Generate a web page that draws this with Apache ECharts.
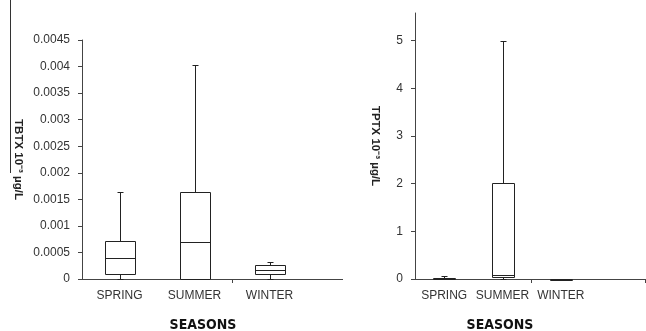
<!DOCTYPE html>
<html><head><meta charset="utf-8">
<script src="https://cdn.jsdelivr.net/npm/echarts@6/dist/echarts.min.js"></script>
<style>html,body{margin:0;padding:0;background:#fff}#c{width:646px;height:331px}</style>
</head><body><div id="c"></div>
<script>
// Categories
const seasons = ['SPRING', 'SUMMER', 'WINTER'];
// Left panel: TBTX  [min, Q1, median, Q3, max]
const tbtxSpring = [0, 0.00009, 0.000395, 0.00072, 0.001635];
const tbtxSummer = [0, 0, 0.000695, 0.00163, 0.00402];
const tbtxWinter = [0, 0.0001, 0.00017, 0.000256, 0.00032];
// Right panel: TPTX  [min, Q1, median, Q3, max]
const tptxSpring = [0, 0, 0.01, 0.02, 0.07];
const tptxSummer = [0, 0.035, 0.09, 2.02, 5.0];
const tptxWinter = [0, 0, 0, 0.005, 0.005];
// Tick labels
const leftTicks = [0, 0.0005, 0.001, 0.0015, 0.002, 0.0025, 0.003, 0.0035, 0.004, 0.0045];
const rightTicks = [0, 1, 2, 3, 4, 5];

const ink = '#222';
const axisCol = '#444';
const font = 'Liberation Sans, Arial, sans-serif';

function px(v) { return Math.round(v) + 0.5; }

function boxRender(boxW, capW) {
  return function (params, api) {
    const i = api.value(0);
    const yMin = px(api.coord([i, api.value(1)])[1]);
    const yQ1 = px(api.coord([i, api.value(2)])[1]);
    const yMed = px(api.coord([i, api.value(3)])[1]);
    const yQ3 = px(api.coord([i, api.value(4)])[1]);
    const yMax = px(api.coord([i, api.value(5)])[1]);
    const x = px(api.coord([i, api.value(3)])[0]);
    const h = boxW / 2, c = capW / 2;
    const st = { stroke: ink, lineWidth: 1, fill: null };
    return {
      type: 'group',
      children: [
        { type: 'line', shape: { x1: x, y1: yQ3, x2: x, y2: yMax }, style: st },
        { type: 'line', shape: { x1: x, y1: yQ1, x2: x, y2: yMin }, style: st },
        { type: 'line', shape: { x1: x - c, y1: yMax, x2: x + c, y2: yMax }, style: st },
        { type: 'line', shape: { x1: x - c, y1: yMin, x2: x + c, y2: yMin }, style: st },
        { type: 'rect', shape: { x: x - h, y: yQ3, width: boxW, height: Math.max(yQ1 - yQ3, 1) }, style: { stroke: ink, lineWidth: 1, fill: '#fff' } },
        { type: 'line', shape: { x1: x - h, y1: yMed, x2: x + h, y2: yMed }, style: st }
      ]
    };
  };
}

function rows(list) { return list.map((v, i) => [i].concat(v)); }

const chart = echarts.init(document.getElementById('c'), null, { renderer: 'canvas' });
chart.setOption({
  animation: false,
  backgroundColor: '#fff',
  grid: [
    { left: 82, width: 225, top: 40, height: 239 },
    { left: 415, width: 175, top: 13, height: 266 }
  ],
  xAxis: [
    { gridIndex: 0, type: 'category', data: seasons, axisLine: { show: false }, axisTick: { show: false },
      axisLabel: { color: '#333', fontSize: 12, fontFamily: font, margin: 11 } },
    { gridIndex: 1, type: 'category', data: seasons, axisLine: { show: false }, axisTick: { show: false },
      axisLabel: { color: '#333', fontSize: 12, fontFamily: font, margin: 11, interval: 0 } }
  ],
  yAxis: [
    { gridIndex: 0, type: 'value', min: 0, max: 0.0045, interval: 0.0005,
      splitLine: { show: false },
      axisLine: { show: true, lineStyle: { color: axisCol, width: 1 } },
      axisTick: { show: true, length: 4, lineStyle: { color: axisCol } },
      axisLabel: { color: '#333', fontSize: 12, fontFamily: font, margin: 12,
        formatter: v => String(+v.toFixed(4)), customValues: leftTicks },
      name: 'TBTX 10⁻³ µg/L', nameLocation: 'middle', nameRotate: -90, nameGap: 58,
      nameTextStyle: { fontWeight: 'bold', fontSize: 11.5, color: '#222', fontFamily: font } },
    { gridIndex: 1, type: 'value', min: 0, max: 5.58, interval: 1,
      splitLine: { show: false },
      axisLine: { show: true, lineStyle: { color: axisCol, width: 1 } },
      axisTick: { show: true, length: 4, lineStyle: { color: axisCol }, customValues: rightTicks },
      axisLabel: { color: '#333', fontSize: 12, fontFamily: font, margin: 12, customValues: rightTicks },
      name: 'TPTX 10⁻³ µg/L', nameLocation: 'middle', nameRotate: -90, nameGap: 34,
      nameTextStyle: { fontWeight: 'bold', fontSize: 11.5, color: '#222', fontFamily: font } }
  ],
  series: [
    { type: 'custom', xAxisIndex: 0, yAxisIndex: 0, renderItem: boxRender(30, 6),
      encode: { x: 0, y: [1, 2, 3, 4, 5] }, data: rows([tbtxSpring, tbtxSummer, tbtxWinter]), z: 3 },
    { type: 'custom', xAxisIndex: 1, yAxisIndex: 1, renderItem: boxRender(22, 6),
      encode: { x: 0, y: [1, 2, 3, 4, 5] }, data: rows([tptxSpring, tptxSummer, tptxWinter]), z: 3 }
  ],
  graphic: [
    // extended x-axis lines
    { type: 'line', shape: { x1: 81, y1: 279.5, x2: 343, y2: 279.5 }, style: { stroke: axisCol, lineWidth: 1 }, z: 1 },
    { type: 'line', shape: { x1: 232.5, y1: 279.5, x2: 232.5, y2: 283 }, style: { stroke: axisCol, lineWidth: 1 } },
    { type: 'line', shape: { x1: 412, y1: 279.5, x2: 646, y2: 279.5 }, style: { stroke: axisCol, lineWidth: 1 }, z: 1 },
    { type: 'line', shape: { x1: 531.5, y1: 279.5, x2: 531.5, y2: 283 }, style: { stroke: axisCol, lineWidth: 1 } },
    { type: 'line', shape: { x1: 645.5, y1: 279.5, x2: 645.5, y2: 283 }, style: { stroke: axisCol, lineWidth: 1 } },
    // cropped frame edge at left
    { type: 'line', shape: { x1: 10.5, y1: 0, x2: 10.5, y2: 173 }, style: { stroke: '#333', lineWidth: 1 } },
    // x axis titles
    { type: 'text', x: 203, y: 318, style: { text: 'SEASONS', fill: '#111', font: 'bold 14px "Liberation Sans Narrow", "DejaVu Sans Condensed", sans-serif', textAlign: 'center' } },
    { type: 'text', x: 500, y: 318, style: { text: 'SEASONS', fill: '#111', font: 'bold 14px "Liberation Sans Narrow", "DejaVu Sans Condensed", sans-serif', textAlign: 'center' } }
  ]
});
</script>
</body></html>
